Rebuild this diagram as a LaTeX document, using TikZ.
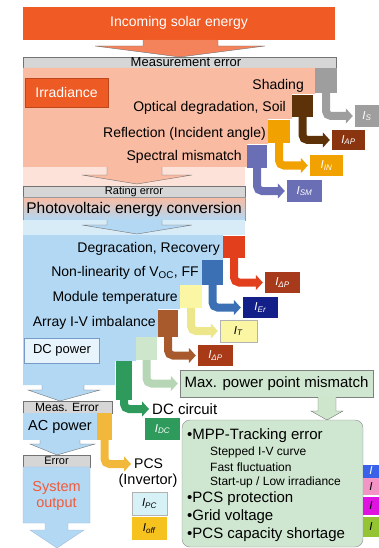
\documentclass[tikz,border=0pt]{standalone}
\usepackage{fontspec}
\setmainfont{Liberation Sans}
\usetikzlibrary{arrows.meta}

\definecolor{solar}{HTML}{F05A24}
\definecolor{barg}{HTML}{D6D6D6}
\definecolor{salmon}{HTML}{F9BBA2}
\definecolor{salmonlt}{HTML}{FCE2D8}
\definecolor{irr}{HTML}{EE5A24}
\definecolor{skyb}{HTML}{B2D8F4}
\definecolor{skylt}{HTML}{D8ECF8}
\definecolor{cgray}{HTML}{9E9E9E}
\definecolor{cbrown}{HTML}{5E3208}
\definecolor{cbrownl}{HTML}{8A3410}
\definecolor{corange}{HTML}{F2A200}
\definecolor{cpurple}{HTML}{6A6EB4}
\definecolor{cred}{HTML}{E2401C}
\definecolor{credl}{HTML}{A83A1C}
\definecolor{cblue}{HTML}{3C70B4}
\definecolor{cnavy}{HTML}{14208A}
\definecolor{cyell}{HTML}{FAF6A4}
\definecolor{cyelld}{HTML}{EEE68A}
\definecolor{crust}{HTML}{A85A2C}
\definecolor{crustl}{HTML}{A83A18}
\definecolor{cmint}{HTML}{CDE6CC}
\definecolor{cmintd}{HTML}{B6D6B6}
\definecolor{cgreen}{HTML}{2E9A5C}
\definecolor{cgold}{HTML}{F2B83C}
\definecolor{ccyan}{HTML}{D6F2F6}
\definecolor{coff}{HTML}{F6C21E}
\definecolor{boxgreen}{HTML}{CFE6D0}
\definecolor{sysred}{HTML}{F25A3A}
\definecolor{sblue}{HTML}{3A62E8}
\definecolor{spink}{HTML}{F294C4}
\definecolor{smag}{HTML}{E014E0}
\definecolor{slime}{HTML}{94C434}

\newcommand{\fsz}[1]{\fontsize{#1}{#1}\selectfont}
\newcommand{\lossI}[1]{\textit{I}\textsubscript{\textit{#1}}}

\begin{document}
\begin{tikzpicture}[x=1pt,y=-1pt,thin,
  sq/.style 2 args={minimum width=#1,minimum height=#2,inner sep=0pt},
  lbl/.style={minimum width=35pt,minimum height=21pt,inner sep=0pt,text=white,font=\fsz{11.5}},
  lossarrow/.style={line width=8pt,rounded corners=5pt,-{Triangle[length=7pt,width=15pt]},shorten >=2pt},
  errbar/.style={fill=barg,draw=black!55},
  blk/.style={draw=black!55,line join=miter},
  txt/.style={font=\fsz{14},inner sep=1pt}]
\useasboundingbox (0,0) rectangle (379,548);

% incoming energy
\fill[solar] (23,7) rectangle (335,40);
\node[txt,text=white] (sun) at (179,23) {Incoming solar energy};
\filldraw[blk,fill=solar!75] (143,40) -- (143,46) -- (95,46) -- (180,57) -- (265,46) -- (218,46) -- (218,40);
\draw[errbar] (23,57) rectangle (336,68);
\node[font=\fsz{13},inner sep=0pt] (merr) at (186,62.5) {Measurement error};

% irradiance part
\fill[salmon] (23,68) -- (315,68) -- (315,94) -- (292,94) -- (292,119) -- (268,119)
  -- (268,144) -- (247,144) -- (247,167) -- (23,167) -- cycle;
\node[draw=irr!80!black,fill=irr,text=white,txt,minimum width=83pt,minimum height=29pt] (irrad) at (66.5,92.5) {Irradiance};
\node[txt,anchor=east] (tS) at (305,86) {Shading};
\node[txt,anchor=east] (tAP) at (287,108) {Optical degradation, Soil};
\node[txt,anchor=east] (tIN) at (267,134) {Reflection (Incident angle)};
\node[txt,anchor=east] (tSM) at (243,157) {Spectral mismatch};

\fill[salmonlt] (23,167) rectangle (245,186);
\filldraw[blk,fill=salmon] (107,167) -- (107,175) -- (82,175) -- (137,184) -- (192,175) -- (162,175) -- (162,167);
\draw[errbar] (23,186) rectangle (245,197);
\node[font=\fsz{11},inner sep=0pt] (rerr) at (134,191.5) {Rating error};
\shade[top color=salmon,bottom color=skyb,draw=black!40] (23,197) rectangle (245,220);
\node[font=\fsz{15.5},inner sep=0pt] (pv) at (134,209) {Photovoltaic energy conversion};
\fill[skylt] (23,220) rectangle (245,235);
\filldraw[blk,fill=skyb] (107,220) -- (107,225) -- (82,225) -- (137,234) -- (192,225) -- (162,225) -- (162,220);

% dc part
\fill[skyb] (23,235) -- (223,235) -- (223,260) -- (202,260) -- (202,285) -- (180,285)
  -- (180,309) -- (158,309) -- (158,337) -- (136,337) -- (136,361) -- (115,361)
  -- (115,385) -- (23,385) -- cycle;
\node[txt,anchor=east] (tDeg) at (221,249) {Degracation, Recovery};
\node[txt,anchor=east] (tEr) at (200,273) {Non-linearity of V\textsubscript{OC}, FF};
\node[txt,anchor=east] (tT) at (179,298) {Module temperature};
\node[txt,anchor=east] (tImb) at (157,323) {Array I-V imbalance};
\node[draw=cblue!70,fill=skylt!60,font=\fsz{13},minimum width=75pt,minimum height=25pt,inner sep=0pt] (dcp) at (62,350.5) {DC power};
\filldraw[blk,fill=skyb] (42,385) -- (42,390) -- (28,390) -- (60,401) -- (100,390) -- (84,390) -- (84,385);

% ac part
\draw[errbar] (23,401) rectangle (112,413);
\node[font=\fsz{12},inner sep=0pt] (aerr) at (67,407) {Meas. Error};
\fill[skyb] (23,413) rectangle (97,440);
\node[txt,font=\fsz{14.5}] (acp) at (60,427) {AC power};
\filldraw[blk,fill=skyb] (40,440) -- (40,444) -- (30,444) -- (57,455) -- (95,444) -- (80,444) -- (80,440);
\draw[errbar] (23,455) rectangle (90,467);
\node[font=\fsz{11},inner sep=0pt] (serr) at (56.5,461) {Error};
\filldraw[blk,draw=cblue!50,fill=skyb] (23,467) -- (90,467) -- (90,523) -- (68,523) -- (68,530) -- (84,530)
  -- (57,548) -- (30,530) -- (45,530) -- (45,523) -- (23,523) -- cycle;
\node[txt,font=\fsz{14.5},text=sysred,align=center] (sysout) at (56.5,496) {System\\[2pt]output};

% loss boxes and loss factors
\node[sq={22pt}{25pt},fill=cgray] (sqS) at (326,80.5) {};
\node[sq={21pt}{22pt},fill=cbrown] (sqAP) at (302.5,106) {};
\node[sq={22pt}{23pt},fill=corange] (sqIN) at (279,131.5) {};
\node[sq={20pt}{23pt},fill=cpurple] (sqSM) at (257,156.5) {};
\node[sq={22pt}{22pt},fill=cred] (sqDeg) at (234,247) {};
\node[sq={21pt}{25pt},fill=cblue] (sqEr) at (212.5,272.5) {};
\node[sq={22pt}{23pt},fill=cyell] (sqT) at (191,296.5) {};
\node[sq={20pt}{27pt},fill=crust] (sqImb) at (168,323.5) {};
\node[sq={21pt}{23pt},fill=cmint] (sqMPP) at (146.5,348.5) {};
\node[sq={16pt}{39pt},fill=cgreen] (sqDC) at (124,380.5) {};
\node[sq={15pt}{27pt},fill=cgold] (sqPC) at (104.5,426.5) {};

\node[lbl,fill=cgray,minimum width=24pt,minimum height=22pt] (lS) at (367,116) {\lossI{S}};
\node[lbl,fill=cbrownl,minimum width=33pt,minimum height=20pt] (lAP) at (348.5,140) {\lossI{AP}};
\node[lbl,fill=corange,minimum width=33pt] (lIN) at (326.5,165.5) {\lossI{IN}};
\node[lbl,fill=cpurple,minimum height=22pt] (lSM) at (304.5,191) {\lossI{SM}};
\node[lbl,fill=credl] (lDeg) at (282.5,282.5) {\lossI{ΔP}};
\node[lbl,fill=cnavy] (lEr) at (260.5,307.5) {\lossI{Er}};
\node[lbl,fill=cyell,draw=black!30,text=black,minimum width=37pt,minimum height=22pt] (lT) at (238.5,331) {\lossI{T}};
\node[lbl,fill=crustl] (lImb) at (215.5,355.5) {\lossI{ΔP}};
\node[draw=black!50,fill=boxgreen,font=\fsz{15},minimum width=193pt,minimum height=27pt,inner sep=0pt] (mpp) at (276.5,383.5) {Max. power point mismatch};
\node[txt,font=\fsz{15},anchor=west] (dcc) at (151,409) {DC circuit};
\node[lbl,fill=cgreen,minimum height=22pt] (lDC) at (162.5,429) {\lossI{DC}};
\node[txt,anchor=west] (pcs) at (133,464) {PCS};
\node[txt,font=\fsz{14.5}] (inv) at (148,481) {(Invertor)};
\node[lbl,fill=ccyan,draw=black!30,text=black,minimum height=23pt] (lPC) at (149.5,503.5) {\lossI{PC}};
\node[lbl,fill=coff,text=black,minimum height=23pt] (lOff) at (149.5,528.5) {\lossI{off}};

\draw[lossarrow,cgray] (sqS.south) |- (lS.west);
\draw[lossarrow,cbrown] (sqAP.south) |- (lAP.west);
\draw[lossarrow,corange] (sqIN.south) |- (lIN.west);
\draw[lossarrow,cpurple] (sqSM.south) |- (lSM.west);
\draw[lossarrow,cred] (sqDeg.south) |- (lDeg.west);
\draw[lossarrow,cblue] (sqEr.south) |- (lEr.west);
\draw[lossarrow,cyelld] (sqT.south) |- (lT.west);
\draw[lossarrow,crust] (sqImb.south) |- (lImb.west);
\draw[lossarrow,cmintd] (sqMPP.south) |- (mpp.west);
\draw[lossarrow,cgreen] (sqDC.south) |- (dcc.west);
\draw[lossarrow,cgold] (sqPC.south) |- (pcs.west);

% pcs losses
\filldraw[blk,fill=cmint] (318,397) -- (318,411) -- (311,411) -- (327,420) -- (343,411) -- (336,411) -- (336,397);
\draw[rounded corners=8pt,fill=boxgreen,draw=black!45] (182,420) rectangle (363,547);
\node[txt,font=\fsz{15},anchor=west] (m1) at (186,436) {•MPP-Tracking error};
\node[txt,font=\fsz{12},anchor=west] (m2) at (209,452) {Stepped I-V curve};
\node[txt,font=\fsz{12},anchor=west] (m3) at (209,467) {Fast fluctuation};
\node[txt,font=\fsz{12},anchor=west] (m4) at (209,482) {Start-up / Low irradiance};
\node[txt,font=\fsz{15},anchor=west] (m5) at (186,499) {•PCS protection};
\node[txt,font=\fsz{15},anchor=west] (m6) at (186,517) {•Grid voltage};
\node[txt,font=\fsz{15},anchor=west] (m7) at (186,535) {•PCS capacity shortage};

\node[lbl,fill=sblue,minimum width=16pt,minimum height=13pt] (rA) at (371,471) {\textit{I}};
\node[lbl,fill=spink,text=black,minimum width=16pt,minimum height=17pt] (rB) at (371,486.5) {\textit{I}};
\node[lbl,fill=smag,text=black,minimum width=16pt,minimum height=18pt] (rC) at (371,506) {\textit{I}};
\node[lbl,fill=slime,text=black,minimum width=16pt,minimum height=20pt] (rD) at (371,527) {\textit{I}};
\end{tikzpicture}
\end{document}
